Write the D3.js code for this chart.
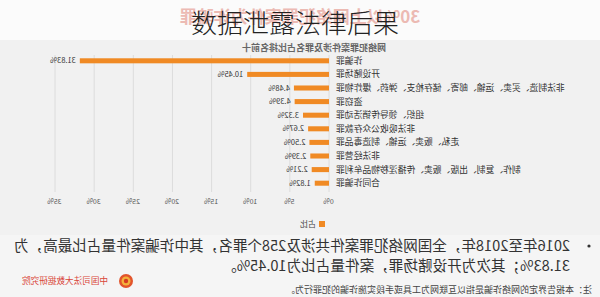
<!DOCTYPE html>
<html>
<head>
<meta charset="utf-8">
<script src="https://cdn.jsdelivr.net/npm/d3@7/dist/d3.min.js"></script>
<style>
  html, body { margin: 0; padding: 0; background: #f4f4f4; }
  svg { display: block; font-family: "Noto Sans CJK SC", "Noto Sans", sans-serif; }
</style>
</head>
<body>
<svg id="chart" width="600" height="297"></svg>
<script>
// ---- data ----
const categories = [
  "诈骗罪",
  "开设赌场罪",
  "非法制造、买卖、运输、邮寄、储存枪支、弹药、爆炸物罪",
  "盗窃罪",
  "组织、领导传销活动罪",
  "非法吸收公众存款罪",
  "走私、贩卖、运输、制造毒品罪",
  "非法经营罪",
  "制作、复制、出版、贩卖、传播淫秽物品牟利罪",
  "合同诈骗罪"
];
const shares = [31.83, 10.45, 4.48, 4.39, 3.32, 2.67, 2.50, 2.39, 2.21, 1.82];
const tickValues = [0, 5, 10, 15, 20, 25, 30, 35];
const seriesName = "占比";
const titleText = "数据泄露法律后果";
const ghostTitle = "30%以上网络犯罪案件为诈骗罪";
const subtitleText = "网络犯罪案件涉及罪名占比排名前十";
const bulletLines = [
  "2016年至2018年，全国网络犯罪案件共涉及258个罪名，其中诈骗案件量占比最高，为",
  "31.83%；其次为开设赌场罪，案件量占比为10.45%。"
];
const sourceText = "中国司法大数据研究院";
const noteText = "注：本报告界定的网络诈骗是指以互联网为工具或手段实施诈骗的犯罪行为。";

// ---- drawing ----
const svg = d3.select("#chart");
const W = 600, H = 297;

// background
svg.append("rect").attr("x", 0).attr("y", 0).attr("width", W).attr("height", H).attr("fill", "#f5f5f5");
svg.append("rect").attr("x", 0).attr("y", 0).attr("width", W).attr("height", 40).attr("fill", "#fbfbfb");
svg.append("rect").attr("x", 0).attr("y", 40).attr("width", W).attr("height", 195).attr("fill", "#f1f1f1");

// whole original picture is mirrored horizontally
const g = svg.append("g").attr("transform", `translate(${W},0) scale(-1,1)`);

// faint original title
g.append("text")
  .attr("x", 300).attr("y", 23)
  .attr("text-anchor", "middle")
  .attr("font-size", 17).attr("font-weight", 700)
  .attr("fill", "#e7a59c").attr("opacity", 0.75)
  .text(ghostTitle);

// subtitle
g.append("text")
  .attr("x", 286).attr("y", 51)
  .attr("text-anchor", "middle")
  .attr("font-size", 9).attr("font-weight", 700)
  .attr("fill", "#666")
  .text(subtitleText);

const x = d3.scaleLinear().domain([0, 35]).range([271, 545]);
const y = d3.scaleBand().domain(categories).range([54, 190]).paddingInner(0.63).paddingOuter(0.315);

// grid lines
g.append("g").selectAll("line").data(tickValues).join("line")
  .attr("x1", d => x(d)).attr("x2", d => x(d))
  .attr("y1", 55).attr("y2", 192)
  .attr("stroke", "#dcdcdc").attr("stroke-width", 1);

// x axis labels
const axis = d3.axisBottom(x).tickValues(tickValues).tickFormat(d => d + "%").tickSize(0).tickPadding(0);
const axG = g.append("g").attr("transform", "translate(0,199)").call(axis);
axG.select(".domain").remove();
axG.selectAll("text").attr("font-size", 7).attr("fill", "#555").attr("font-family", "'Noto Sans CJK SC', sans-serif");

// bars
const rows = categories.map((c, i) => ({ c, v: shares[i] }));
g.append("g").selectAll("rect").data(rows).join("rect")
  .attr("x", x(0))
  .attr("y", d => y(d.c))
  .attr("width", d => x(d.v) - x(0))
  .attr("height", y.bandwidth())
  .attr("fill", "#f08a24");

// value labels
g.append("g").selectAll("text").data(rows).join("text")
  .attr("x", d => x(d.v) + 4)
  .attr("y", d => y(d.c) + y.bandwidth() / 2)
  .attr("dy", "0.35em")
  .attr("font-size", 7.5)
  .attr("fill", "#333")
  .text(d => d.v.toFixed(2) + "%");

// category labels
g.append("g").selectAll("text").data(rows).join("text")
  .attr("x", x(0) - 7)
  .attr("y", d => y(d.c) + y.bandwidth() / 2)
  .attr("dy", "0.35em")
  .attr("text-anchor", "end")
  .attr("font-size", 8.8)
  .attr("fill", "#333")
  .text(d => d.c);

// legend
g.append("rect").attr("x", 275).attr("y", 221).attr("width", 6).attr("height", 6).attr("fill", "#f08a24");
g.append("text").attr("x", 284).attr("y", 224).attr("dy", "0.35em")
  .attr("font-size", 8).attr("fill", "#444").text(seriesName);

// bullet text
g.append("circle").attr("cx", 11).attr("cy", 246).attr("r", 1.6).attr("fill", "#333");
g.append("g").selectAll("text").data(bulletLines).join("text")
  .attr("x", 30)
  .attr("y", (d, i) => 251 + i * 20)
  .attr("font-size", 14.6)
  .attr("fill", "#333")
  .text(d => d);

// source logo + name
const logo = g.append("g").attr("transform", "translate(474,281)");
logo.append("circle").attr("r", 7).attr("fill", "#e2542c");
logo.append("circle").attr("r", 4.5).attr("fill", "#f3b23c");
logo.append("circle").attr("r", 2.2).attr("fill", "#d63a22");
g.append("text").attr("x", 492).attr("y", 281).attr("dy", "0.35em")
  .attr("font-size", 8.6).attr("fill", "#d9463a").text(sourceText);

// note
g.append("text").attr("x", 8).attr("y", 290).attr("dy", "0.35em")
  .attr("font-size", 9).attr("fill", "#444").text(noteText);

// overlay title (not mirrored)
svg.append("text")
  .attr("x", 295).attr("y", 33)
  .attr("text-anchor", "middle")
  .attr("font-size", 26).attr("font-weight", 300)
  .attr("fill", "#222")
  .text(titleText);
</script>
</body>
</html>
